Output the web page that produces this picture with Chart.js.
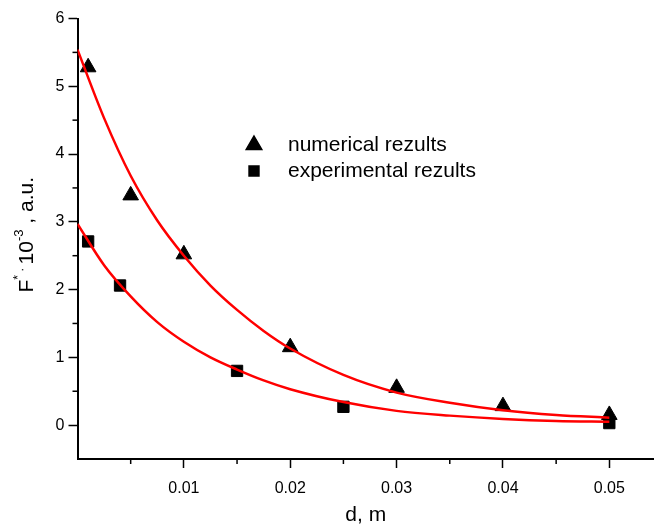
<!DOCTYPE html>
<html lang="en">
<head>
  <meta charset="UTF-8" />
  <title>F vs d</title>
  <script src="https://cdn.jsdelivr.net/npm/chart.js"></script>
  <style>
    html, body {
      margin: 0;
      padding: 0;
      background: #fff;
      overflow: hidden;
    }
    #wrap {
      width: 654px;
      height: 529px;
    }
  </style>
</head>
<body>
  <div id="wrap"><canvas id="chart" width="654" height="529"></canvas></div>

  <script>
    // measured points
    const numX = [0.001, 0.005, 0.01, 0.02, 0.03, 0.04, 0.05];
    const numY = [5.28, 3.39, 2.52, 1.15, 0.55, 0.28, 0.15];
    const expX = [0.001, 0.004, 0.015, 0.025, 0.05];
    const expY = [2.71, 2.06, 0.80, 0.27, 0.03];

    // red fit curves
    const fitX = [0, 0.0025, 0.005, 0.0075, 0.01, 0.0125, 0.015, 0.0175, 0.02, 0.025, 0.03, 0.035, 0.04, 0.045, 0.05];
    const fitNum = [5.54, 4.53, 3.68, 3.02, 2.5, 2.06, 1.70, 1.39, 1.13, 0.74, 0.48, 0.33, 0.22, 0.15, 0.11];
    const fitExp = [2.97, 2.36, 1.9, 1.52, 1.23, 1.0, 0.82, 0.66, 0.53, 0.34, 0.21, 0.14, 0.09, 0.06, 0.05];

    // axis ticks
    const xTicks = [0, 0.005, 0.01, 0.015, 0.02, 0.025, 0.03, 0.035, 0.04, 0.045, 0.05];
    const xLabels = ['', '', '0.01', '', '0.02', '', '0.03', '', '0.04', '', '0.05'];
    const yTicks = [-0.5, 0, 0.5, 1, 1.5, 2, 2.5, 3, 3.5, 4, 4.5, 5, 5.5, 6];
    const yLabels = ['', '0', '', '1', '', '2', '', '3', '', '4', '', '5', '', '6'];

    const legendLabels = ['numerical rezults', 'experimental rezults'];
    const xTitle = 'd, m';

    const FONT = "'Liberation Sans', Arial, sans-serif";

    const toPts = (xs, ys) => xs.map((x, i) => ({ x: x, y: ys[i] }));

    const xIdx = v => xTicks.findIndex(t => Math.abs(t - v) < 1e-9);
    const yIdx = v => yTicks.findIndex(t => Math.abs(t - v) < 1e-9);
    const isMajorX = v => { const i = xIdx(v); return i >= 0 && xLabels[i] !== ''; };
    const isMajorY = v => { const i = yIdx(v); return i >= 0 && yLabels[i] !== ''; };

    // minor ticks, titles and the in-plot legend
    const extras = {
      id: 'extras',
      afterDraw(chart) {
        const ctx = chart.ctx;
        const xs = chart.scales.x, ys = chart.scales.y;
        const area = chart.chartArea;
        ctx.save();
        ctx.strokeStyle = '#000';
        ctx.lineWidth = 1.5;
        xTicks.forEach(v => {
          if (isMajorX(v) || v <= 0) return;
          const px = xs.getPixelForValue(v);
          ctx.beginPath();
          ctx.moveTo(px, area.bottom);
          ctx.lineTo(px, area.bottom + 5);
          ctx.stroke();
        });
        yTicks.forEach(v => {
          if (isMajorY(v) || v < 0) return;
          const py = ys.getPixelForValue(v);
          ctx.beginPath();
          ctx.moveTo(area.left, py);
          ctx.lineTo(area.left - 5, py);
          ctx.stroke();
        });

        ctx.fillStyle = '#000';
        // x title
        ctx.font = '21px ' + FONT;
        ctx.textAlign = 'center';
        ctx.textBaseline = 'middle';
        ctx.fillText(xTitle, (area.left + area.right) / 2, 515);

        // y title, rotated, with superscripts
        const parts = [
          { t: 'F', size: 21, rise: 0 },
          { t: '*', size: 12, rise: 11 },
          { t: ' · ', size: 12, rise: 7 },
          { t: '10', size: 21, rise: 0 },
          { t: '-3', size: 13, rise: 10 },
          { t: ' , a.u.', size: 21, rise: 0 }
        ];
        let total = 0;
        parts.forEach(p => { ctx.font = p.size + 'px ' + FONT; p.w = ctx.measureText(p.t).width; total += p.w; });
        ctx.save();
        ctx.translate(33, (area.top + area.bottom) / 2 - 4);
        ctx.rotate(-Math.PI / 2);
        ctx.textAlign = 'left';
        ctx.textBaseline = 'alphabetic';
        let cx = -total / 2;
        parts.forEach(p => {
          ctx.font = p.size + 'px ' + FONT;
          ctx.fillText(p.t, cx, -p.rise);
          cx += p.w;
        });
        ctx.restore();

        // legend
        ctx.font = '21px ' + FONT;
        ctx.textAlign = 'left';
        ctx.textBaseline = 'middle';
        Chart.helpers.drawPoint(ctx, { pointStyle: 'triangle', radius: 9, borderWidth: 1 }, 254, 145);
        ctx.fill();
        ctx.fillText(legendLabels[0], 288, 145);
        Chart.helpers.drawPoint(ctx, { pointStyle: 'rect', radius: 7, borderWidth: 1 }, 254, 171);
        ctx.fill();
        ctx.fillText(legendLabels[1], 288, 171);
        ctx.restore();
      }
    };

    new Chart(document.getElementById('chart'), {
      type: 'scatter',
      data: {
        datasets: [
          {
            label: 'fit numerical',
            type: 'line',
            data: toPts(fitX, fitNum),
            borderColor: '#ff0000',
            borderWidth: 2.5,
            pointRadius: 0,
            cubicInterpolationMode: 'monotone',
            fill: false
          },
          {
            label: 'fit experimental',
            type: 'line',
            data: toPts(fitX, fitExp),
            borderColor: '#ff0000',
            borderWidth: 2.5,
            pointRadius: 0,
            cubicInterpolationMode: 'monotone',
            fill: false
          },
          {
            label: legendLabels[0],
            data: toPts(numX, numY),
            pointStyle: 'triangle',
            pointRadius: 9,
            borderWidth: 1,
            backgroundColor: '#000',
            borderColor: '#000'
          },
          {
            label: legendLabels[1],
            data: toPts(expX, expY),
            pointStyle: 'rect',
            pointRadius: 8,
            borderWidth: 1,
            backgroundColor: '#000',
            borderColor: '#000'
          }
        ]
      },
      options: {
        responsive: false,
        animation: false,
        layout: { autoPadding: false, padding: { left: 0, top: 18.5, right: 0, bottom: 0 } },
        plugins: {
          legend: { display: false },
          tooltip: { enabled: false }
        },
        scales: {
          x: {
            type: 'linear',
            min: 0,
            max: 0.0542,
            afterBuildTicks(scale) {
              scale.ticks = xTicks.map(v => ({ value: v }));
            },
            afterFit(scale) {
              scale.height = 70;
              scale.paddingLeft = 0;
              scale.paddingRight = 0;
            },
            ticks: {
              padding: 11,
              color: '#000',
              font: { family: FONT, size: 16 },
              maxRotation: 0,
              autoSkip: false,
              callback: v => { const i = xIdx(v); return i >= 0 ? xLabels[i] : ''; }
            },
            grid: {
              drawOnChartArea: false,
              drawTicks: true,
              tickLength: 9,
              tickWidth: 1.5,
              color: c => (c.tick && isMajorX(c.tick.value)) ? '#000' : 'rgba(0,0,0,0)',
              tickColor: c => (c.tick && isMajorX(c.tick.value)) ? '#000' : 'rgba(0,0,0,0)'
            },
            border: { display: true, color: '#000', width: 2 }
          },
          y: {
            type: 'linear',
            min: -0.5,
            max: 6,
            afterBuildTicks(scale) {
              scale.ticks = yTicks.map(v => ({ value: v }));
            },
            afterFit(scale) { scale.width = 77.5; },
            ticks: {
              padding: 4,
              color: '#000',
              font: { family: FONT, size: 16 },
              autoSkip: false,
              callback: v => { const i = yIdx(v); return i >= 0 ? yLabels[i] : ''; }
            },
            grid: {
              drawOnChartArea: false,
              drawTicks: true,
              tickLength: 9,
              tickWidth: 1.5,
              color: c => (c.tick && isMajorY(c.tick.value)) ? '#000' : 'rgba(0,0,0,0)',
              tickColor: c => (c.tick && isMajorY(c.tick.value)) ? '#000' : 'rgba(0,0,0,0)'
            },
            border: { display: true, color: '#000', width: 2 }
          }
        }
      },
      plugins: [extras]
    });
  </script>
</body>
</html>
